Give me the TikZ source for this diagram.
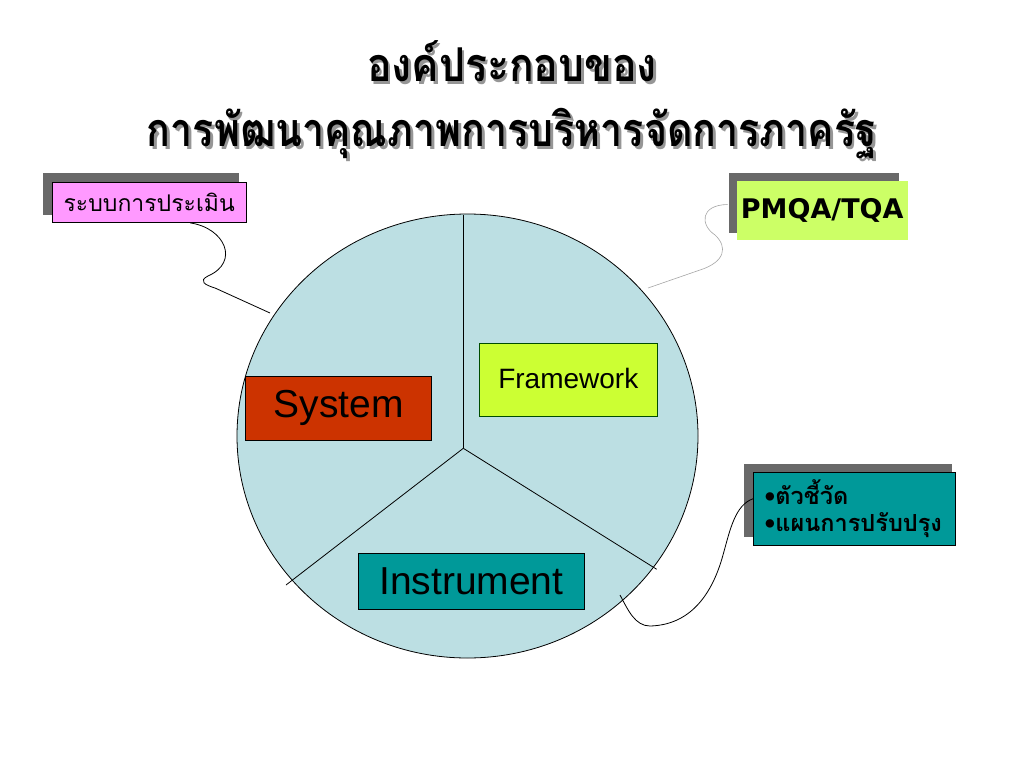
\documentclass[tikz,border=0pt]{standalone}
\usepackage{fontspec}
\setmainfont{Liberation Sans}
\newfontfamily\thai[Script=Thai]{Loma}
\newfontfamily\dvs{DejaVu Sans}
\definecolor{pie}{RGB}{188,223,227}
\definecolor{sysred}{RGB}{204,51,0}
\definecolor{frameg}{RGB}{204,255,51}
\definecolor{teal}{RGB}{0,153,153}
\definecolor{pink}{RGB}{255,153,255}
\definecolor{lime}{RGB}{204,255,102}
\definecolor{shade}{RGB}{105,105,105}
\definecolor{tshadow}{RGB}{150,150,150}
\newcommand{\shadowtxt}[1]{\makebox[0pt][l]{\hspace{3pt}\raisebox{-3pt}{\color{tshadow}#1}}#1}
\begin{document}
\begin{tikzpicture}[x=1pt,y=-1pt,
  shadowbox/.style={fill=shade,draw=none,inner sep=0pt},
  labelbox/.style={draw=black,line width=0.8pt,inner sep=0pt},
  conn/.style={draw=black,line width=0.8pt},
  titletext/.style={inner sep=0pt,font=\thai\bfseries\fontsize{44}{50}\selectfont}]
\useasboundingbox (0,0) rectangle (1024,768);
\fill[white] (0,0) rectangle (1024,768);
% title
\node[titletext] (t1) at (512,63) {\scalebox{0.93}[1.06]{\shadowtxt{องค์ประกอบของ}}};
\node[titletext] (t2) at (512,135) {\scalebox{0.895}[1.06]{\shadowtxt{การพัฒนาคุณภาพการบริหารจัดการภาครัฐ}}};
% pie
\filldraw[fill=pie,draw=black,line width=0.8pt] (467.5,436) ellipse [x radius=230.5, y radius=222];
\coordinate (c) at (463.3,448.3);
\coordinate (ptop) at (463.3,215);
\coordinate (pleft) at (286,585);
\coordinate (pright) at (656.7,569.3);
\draw[conn] (c) -- (ptop);
\draw[conn] (c) -- (pleft);
\draw[conn] (c) -- (pright);
% inner boxes
\node[labelbox,fill=sysred,minimum width=186pt,minimum height=64pt,font=\fontsize{39}{44}\selectfont] (sys) at (338.7,407.9) {System};
\node[labelbox,fill=frameg,draw=black!70!green,minimum width=178pt,minimum height=73pt,font=\fontsize{28}{32}\selectfont] (fw) at (568.3,380) {\raisebox{3pt}{Framework}};
\node[labelbox,fill=teal,minimum width=226pt,minimum height=56pt,font=\fontsize{39}{44}\selectfont] (ins) at (471.3,581.3) {Instrument};
% callout pink
\node[shadowbox,minimum width=196pt,minimum height=42pt] (pinks) at (141.3,194.2) {};
\node[labelbox,fill=pink,minimum width=194pt,minimum height=40pt,font=\thai\fontsize{23}{26}\selectfont] (pinkb) at (149.2,202.5) {ระบบการประเมิน};
\coordinate (pinkend) at (270,313);
\draw[conn] ([xshift=41pt]pinkb.south) .. controls (225,228) and (240,262) .. (208,276)
  .. controls (198,281) and (205,285) .. (215,288) -- (pinkend);
% callout PMQA
\node[shadowbox,minimum width=170pt,minimum height=60pt] (pmqas) at (814.3,203.3) {};
\node[fill=lime,inner sep=0pt,minimum width=171pt,minimum height=59pt,font=\dvs\bfseries\fontsize{27}{30}\selectfont] (pmqa) at (822.2,210.5) {PMQA/TQA};
\coordinate (pmqaend) at (648,288);
\draw[line width=0.6pt,draw=gray!70] ([xshift=-9pt,yshift=6pt]pmqa.west) .. controls (700,205) and (700,225) .. (715,235)
  .. controls (728,247) and (725,262) .. (700,270) -- (pmqaend);
% callout teal
\node[shadowbox,minimum width=208pt,minimum height=73pt] (tls) at (848.2,500) {};
\node[labelbox,fill=teal,minimum width=202pt,minimum height=73pt,text width=180pt,align=left,font=\thai\bfseries\fontsize{23.5}{27}\selectfont] (tl) at (854.5,508.7) {•ตัวชี้วัด\\•แผนการปรับปรุง};
\coordinate (tlend) at (620,595);
\draw[conn] ([yshift=10pt]tl.west) .. controls (735,505) and (730,530) .. (723,555)
  .. controls (712,595) and (690,625) .. (650,626) .. controls (635,626) and (628,610) .. (tlend);
\end{tikzpicture}
\end{document}
